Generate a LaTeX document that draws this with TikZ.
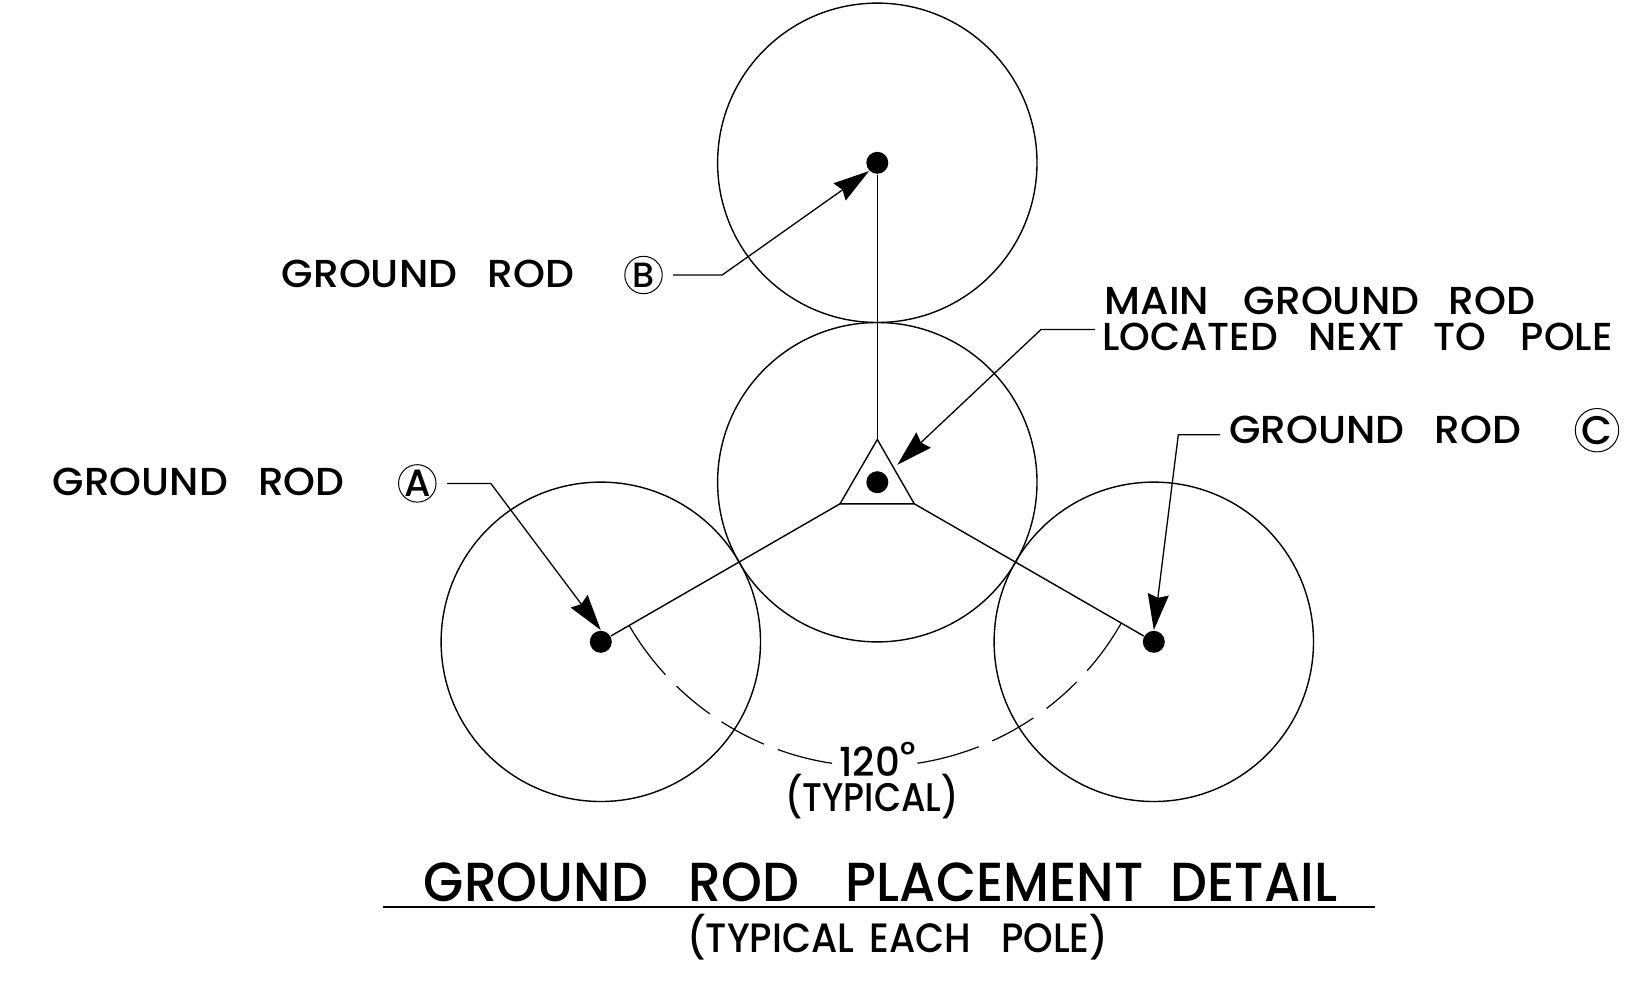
\documentclass[tikz,border=0pt]{standalone}
\usepackage{fontspec}
\usepackage{graphicx}
\setmainfont{Poppins}[UprightFont=* Medium]
\usetikzlibrary{arrows.meta}
\newcommand{\fitlabel}[3]{\fontsize{#1}{#1}\selectfont\resizebox{#2pt}{\height}{#3}}
\newcommand{\gap}{\hspace{.75em}}

\begin{document}
\begin{tikzpicture}[x=1pt,y=-1pt,>={Stealth[length=36pt,width=21pt,inset=3.5pt]},line width=1.4pt]
    \tikzset{
        ring/.style={circle,draw=black,minimum size=319.4pt,inner sep=0pt,line width=1.4pt},
        rod/.style={circle,fill=black,minimum size=22pt,inner sep=0pt},
        lbl/.style={inner sep=0pt,anchor=base},
        tag/.style={circle,draw=black,inner sep=0pt,line width=1pt,minimum size=37.4pt,outer sep=11pt},
        leader/.style={->,line width=1.3pt},
        dashpart/.style={line width=1.2pt}
    }
    \useasboundingbox(0,0) rectangle (1633,994);
    % circles round each rod
    \node[ring](ringM)at(877.3, 482.2){};
    \node[ring](ringA)at(600.8, 641.8){};
    \node[ring](ringB)at(877.3, 162.8){};
    \node[ring](ringC)at(1153.8, 641.8){};
    \node[rod](dotM)at(ringM){};
    \node[rod](dotA)at(ringA){};
    \node[rod](dotB)at(ringB){};
    \node[rod](dotC)at(ringC){};
    % pole
    \coordinate(triT)at(877.3, 439.5);
    \coordinate(triL)at(840, 503.8);
    \coordinate(triR)at(914.3, 503.8);
    \draw (triT) -- (triL) -- (triR) -- cycle;
    \draw (triT) -- (dotB);
    \draw (triL) -- (dotA);
    \draw (triR) -- (dotC);
    % 120 degree arc
    \coordinate(arcC)at(874.5, 482.5);
    \foreach \from/\to in {149.8/137.4,134.2/125.4,122.6/112.9,109.9/98.6,81.3/68.5,65.5/56,52.7/44.6,41.5/29.7}
        \draw[dashpart] (arcC) ++(\from:284) arc[start angle=\from,end angle=\to,radius=284];
    \node[lbl,anchor=base west](angle)at(838.6, 776.2){\fitlabel{40}{60.7}{120}\raisebox{9pt}{\fontsize{36}{36}\selectfont °}};
    \node[lbl](typical)at(872, 811){\fitlabel{40}{173}{(TYPICAL)}};
    % rod A
    \node[lbl](textA)at(198.7, 495.5){\fitlabel{39}{291.6}{GROUND\gap ROD}};
    \node[tag](tagA)at(417.3, 483.4){\fontsize{38}{38}\selectfont A};
    \coordinate(elbowA)at(490.8, 483.4);
    \draw[leader] (tagA.east) -- (elbowA) -- (dotA.north);
    % rod B
    \node[lbl](textB)at(428.1, 287.5){\fitlabel{39}{292.5}{GROUND\gap ROD}};
    \node[tag](tagB)at(643.5, 275){\fontsize{35}{35}\selectfont B};
    \coordinate(elbowB)at(722.2, 275);
    \draw[leader] (tagB.east) -- (elbowB) -- (dotB.south west);
    % rod C
    \node[lbl](textC)at(1375.2, 443){\fitlabel{39}{292}{GROUND\gap ROD}};
    \node[tag,minimum size=43.4pt,outer sep=-1pt](tagC)at(1597, 430.2){\fontsize{40}{40}\selectfont C};
    \coordinate(startC)at(1220, 434.8);
    \coordinate(elbowC)at(1178.3, 434.8);
    \draw[leader] (startC) -- (elbowC) -- (dotC.north);
    % main rod
    \node[lbl,anchor=base west](mainOne)at(1104, 314.5){\fitlabel{39}{430.5}{MAIN\hspace{.85em}GROUND\hspace{.72em}ROD}};
    \node[lbl,anchor=base west](mainTwo)at(1101.8, 350.2){\fitlabel{39}{510}{LOCATED\hspace{.78em}NEXT\hspace{.72em}TO\hspace{.9em}POLE}};
    \coordinate(startM)at(1095, 329.5);
    \coordinate(elbowM)at(1041, 329.5);
    \coordinate(tipM)at(897.3, 464.8);
    \draw[leader] (startM) -- (elbowM) -- (tipM);
    % title
    \node[lbl](title)at(880.6, 901){\fitlabel{55}{913.4}{GROUND\hspace{.78em}ROD\hspace{.9em}PLACEMENT\hspace{.52em}DETAIL}};
    \coordinate(ruleL)at(383.3, 907.2);
    \coordinate(ruleR)at(1375, 907.2);
    \draw[line width=1.5pt] (ruleL) -- (ruleR);
    \node[lbl](subtitle)at(897.8, 952.8){\fitlabel{41}{421}{(TYPICAL\hspace{.4em}EACH\hspace{.8em}POLE)}};
\end{tikzpicture}
\end{document}
